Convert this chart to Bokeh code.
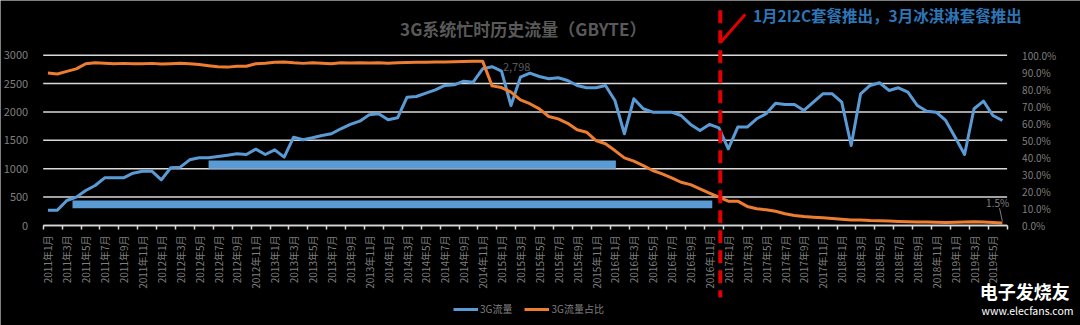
from bokeh.plotting import figure
from bokeh.models import (Range1d, LinearAxis, FixedTicker, NumeralTickFormatter,
                          Legend, LegendItem, Label, Arrow, BoxAnnotation, ColumnDataSource)
from bokeh.embed import file_html
from bokeh.resources import INLINE
import math

# ---------------- data ----------------
years = [2011, 2012, 2013, 2014, 2015, 2016, 2017, 2018, 2019]
month_labels = [f"{y}年{m}月" for y in years for m in range(1, 13)][:102]

traffic_3g = [270, 270, 440, 500, 617, 705, 840, 840, 840, 922,
              957, 957, 805, 1017, 1028, 1157, 1193, 1193, 1216, 1239,
              1263, 1251, 1345, 1251, 1333, 1204, 1556, 1510, 1545, 1586,
              1616, 1704, 1780, 1838, 1950, 1968, 1862, 1897, 2261, 2273,
              2331, 2390, 2467, 2478, 2543, 2525, 2760, 2798, 2719, 2114,
              2613, 2684, 2625, 2584, 2602, 2555, 2467, 2426, 2426, 2467,
              2202, 1616, 2232, 2056, 1997, 1997, 1997, 1938, 1780, 1674,
              1780, 1721, 1351, 1733, 1733, 1880, 1968, 2155, 2132, 2132,
              2026, 2173, 2320, 2320, 2173, 1410, 2320, 2467, 2514, 2379,
              2426, 2349, 2114, 2014, 1997, 1850, 1556, 1251, 2056, 2191,
              1938, 1850]

share_3g = [0.895, 0.890, 0.905, 0.920, 0.950, 0.955, 0.953, 0.950, 0.952, 0.950,
            0.950, 0.952, 0.948, 0.950, 0.953, 0.950, 0.945, 0.938, 0.932, 0.930,
            0.935, 0.935, 0.950, 0.953, 0.958, 0.960, 0.955, 0.952, 0.955, 0.953,
            0.950, 0.955, 0.954, 0.956, 0.954, 0.955, 0.953, 0.955, 0.957, 0.958,
            0.959, 0.960, 0.960, 0.962, 0.963, 0.964, 0.965, 0.820, 0.810, 0.783,
            0.738, 0.715, 0.685, 0.640, 0.626, 0.600, 0.562, 0.548, 0.499, 0.480,
            0.440, 0.397, 0.378, 0.352, 0.323, 0.303, 0.280, 0.254, 0.240, 0.215,
            0.190, 0.166, 0.143, 0.143, 0.112, 0.098, 0.092, 0.084, 0.069, 0.059,
            0.053, 0.049, 0.045, 0.041, 0.037, 0.033, 0.033, 0.029, 0.028, 0.026,
            0.024, 0.022, 0.021, 0.020, 0.019, 0.018, 0.019, 0.021, 0.022, 0.020,
            0.017, 0.015]

left_ticks = [0, 500, 1000, 1500, 2000, 2500, 3000]
right_ticks = [i / 10 for i in range(11)]

title_text = "3G系统忙时历史流量（GBYTE）"
note_text = "1月2I2C套餐推出，3月冰淇淋套餐推出"
series_names = ["3G流量", "3G流量占比"]

# ---------------- figure ----------------
n = len(traffic_3g)
x = list(range(n))
src = ColumnDataSource(dict(x=x, traffic=traffic_3g, share=share_3g))

FONT = "Noto Sans CJK SC"
GRAY = "#7F7F7F"
BLUE = "#5B9BD5"
ORANGE = "#ED7D31"
GRID = "#D9D9D9"

W, H = 1080, 325
ZERO_PX, TOP_PX = 225.0, 54.7          # pixel rows of 0 and 3000
LEFT_PX, RIGHT_PX = 42.7, 1006.6        # pixel columns of the plot area
ppu = (ZERO_PX - TOP_PX) / 3000.0
y_lo, y_hi = -(H - ZERO_PX) / ppu, ZERO_PX / ppu
ppx = (RIGHT_PX - LEFT_PX) / n
x0, x1 = -0.5, n - 0.5
x_lo, x_hi = x0 - LEFT_PX / ppx, x1 + (W - RIGHT_PX) / ppx

p = figure(width=W, height=H, output_backend="svg", toolbar_location=None,
           x_range=Range1d(x_lo, x_hi), y_range=Range1d(y_lo, y_hi),
           min_border_left=0, min_border_right=0, min_border_top=0, min_border_bottom=0)
p.background_fill_color = "black"
p.border_fill_color = "black"
p.outline_line_color = None
p.extra_y_ranges = {"pct": Range1d(y_lo / 3000, y_hi / 3000)}
p.xgrid.visible = False
p.ygrid.visible = False

# x axis (pinned at value 0 inside the frame)
xa = p.xaxis[0]
xa.fixed_location = 0
xa.bounds = (x0, x1)
xa.ticker = FixedTicker(ticks=list(range(0, n, 2)),
                        minor_ticks=[x0 + 2 * k for k in range(n // 2 + 1)])
xa.major_label_overrides = {i: month_labels[i] for i in range(0, n, 2)}
xa.major_label_orientation = math.pi / 2
xa.major_label_text_font = FONT
xa.major_label_text_font_size = "10px"
xa.major_label_text_color = GRAY
xa.major_tick_out = 0
xa.major_tick_in = 0
xa.minor_tick_out = 4
xa.minor_tick_in = 0
xa.minor_tick_line_color = GRID
xa.minor_tick_line_width = 1.5
xa.axis_line_color = GRID
xa.axis_line_width = 1.5
xa.major_label_standoff = 6

# left axis
ya = p.yaxis[0]
ya.fixed_location = x0
ya.ticker = FixedTicker(ticks=left_ticks)
ya.axis_line_color = None
ya.major_tick_line_color = None
ya.minor_tick_line_color = None
ya.major_label_text_font = FONT
ya.major_label_text_font_size = "11px"
ya.major_label_text_color = GRAY
ya.major_label_standoff = 9

# right axis
ra = LinearAxis(y_range_name="pct", ticker=FixedTicker(ticks=right_ticks),
                formatter=NumeralTickFormatter(format="0.0%"), fixed_location=x1)
ra.axis_line_color = None
ra.major_tick_line_color = None
ra.minor_tick_line_color = None
ra.major_label_text_font = FONT
ra.major_label_text_font_size = "10px"
ra.major_label_text_color = GRAY
ra.major_label_standoff = 9
p.add_layout(ra, "right")

# horizontal gridlines across the plot area only
p.segment(x0=[x0] * len(left_ticks), x1=[x1] * len(left_ticks), y0=left_ticks, y1=left_ticks,
          line_color=GRID, line_width=1.5, level="underlay")

# decorative bars
p.add_layout(BoxAnnotation(left=2.6, right=70.3, bottom=305, top=440,
                           fill_color=BLUE, fill_alpha=1, line_color=None, level="underlay"))
p.add_layout(BoxAnnotation(left=17.0, right=60.1, bottom=1000, top=1145,
                           fill_color=BLUE, fill_alpha=1, line_color=None, level="underlay"))

r1 = p.line("x", "traffic", source=src, line_color=BLUE, line_width=3, line_join="round")
r2 = p.line("x", "share", source=src, y_range_name="pct", line_color=ORANGE, line_width=3,
            line_join="round")

# red dashed marker and arrow
p.add_layout(Arrow(end=None, x_start=71.15, y_start=3790, x_end=71.15, y_end=-1270,
                   line_color="#E00000", line_width=4, line_dash="13 7"))
p.add_layout(Arrow(end=None, x_start=71.2, y_start=3230, x_end=73.8, y_end=3720,
                   line_color="#E00000", line_width=3))

# texts
p.add_layout(Label(x=50.3, y=3471, text=title_text, text_align="center", text_baseline="middle",
                   text_font=FONT, text_font_size="17px", text_font_style="bold",
                   text_color="#595959"))
p.add_layout(Label(x=74.6, y=3700, text=note_text, text_align="left", text_baseline="middle",
                   text_font=FONT, text_font_size="15.5px", text_font_style="bold",
                   text_color="#2E75B6"))

imax = traffic_3g.index(max(traffic_3g))
p.add_layout(Label(x=imax + 2.6, y=max(traffic_3g) - 10, text=f"{max(traffic_3g):,}",
                   text_align="center", text_baseline="middle", text_font=FONT,
                   text_font_size="11px", text_color="#595959"))
p.add_layout(Label(x=n - 1.5, y=share_3g[-1] * 3000 + 360, text=f"{share_3g[-1]*100:.1f}%",
                   text_align="center", text_baseline="middle", text_font=FONT,
                   text_font_size="10px", text_color=GRAY))
p.add_layout(Arrow(end=None, x_start=n - 1.3, y_start=share_3g[-1] * 3000 + 260,
                   x_end=n - 1, y_end=share_3g[-1] * 3000 + 30, line_color=GRAY, line_width=1))

# watermark
p.add_layout(Label(x=98.6, y=-1160, text="电子发烧友", text_align="left", text_baseline="middle",
                   text_font=FONT, text_font_size="18px", text_font_style="bold",
                   text_color="white"))
p.add_layout(Label(x=98.8, y=-1500, text="www.elecfans.com", text_align="left",
                   text_baseline="middle", text_font=FONT, text_font_size="10.5px",
                   text_color="white"))

legend = Legend(items=[LegendItem(label=series_names[0], renderers=[r1]),
                       LegendItem(label=series_names[1], renderers=[r2])],
                orientation="horizontal", location=(453, 9),
                background_fill_alpha=0, border_line_color=None,
                label_text_color=GRAY, label_text_font=FONT, label_text_font_size="10px",
                glyph_width=25, glyph_height=12, label_standoff=2, spacing=12,
                padding=2, margin=0)
p.add_layout(legend, "center")

open("out.html", "w").write(file_html(p, INLINE))
